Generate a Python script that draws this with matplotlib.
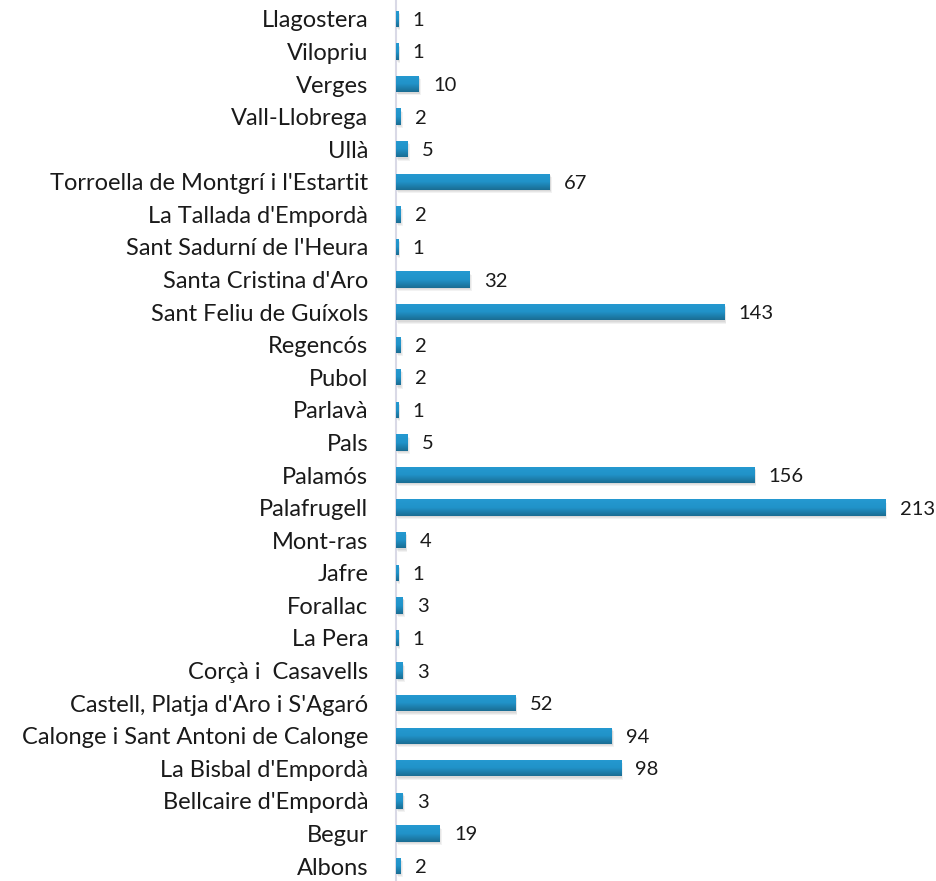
import matplotlib
matplotlib.use("Agg")
import matplotlib.pyplot as plt
import numpy as np
from matplotlib.colors import LinearSegmentedColormap

categories = ["Albons", "Begur", "Bellcaire d'Empordà", "La Bisbal d'Empordà",
              "Calonge i Sant Antoni de Calonge", "Castell, Platja d'Aro i S'Agaró",
              "Corçà i  Casavells", "La Pera", "Forallac", "Jafre", "Mont-ras",
              "Palafrugell", "Palamós", "Pals", "Parlavà", "Pubol", "Regencós",
              "Sant Feliu de Guíxols", "Santa Cristina d'Aro", "Sant Sadurní de l'Heura",
              "La Tallada d'Empordà", "Torroella de Montgrí i l'Estartit", "Ullà",
              "Vall-Llobrega", "Verges", "Vilopriu", "Llagostera"]
values = [2, 19, 3, 98, 94, 52, 3, 1, 3, 1, 4, 213, 156, 5, 1, 2, 2, 143, 32, 1, 2, 67, 5, 2, 10, 1, 1]

plt.rcParams['font.family'] = ['Lato', 'DejaVu Sans']

fig = plt.figure(figsize=(9.37, 8.81), dpi=100)
ax = fig.add_axes([0.4226, 0.0, 0.5774, 1.0])
y = np.arange(len(categories))
h = 0.5

# soft shadow
for k, a in enumerate([0.05, 0.05, 0.05]):
    off = 0.04 + 0.03 * k
    ax.barh(y - off, values, height=h, left=0.3 + 0.3 * k, color='#000000', alpha=a, zorder=1, linewidth=0)
bars = ax.barh(y, values, height=h, color='#1F8BBE', zorder=2, linewidth=0)

grad = np.linspace(0, 1, 64).reshape(-1, 1)
cmap = LinearSegmentedColormap.from_list('g', ['#1A6D93', '#2193C9', '#2599D1'])
for b in bars:
    x0, y0 = b.get_x(), b.get_y()
    w, hh = b.get_width(), b.get_height()
    im = ax.imshow(grad, extent=[x0, x0 + w, y0, y0 + hh], origin='lower',
                   cmap=cmap, aspect='auto', zorder=3)
    im.set_clip_path(b)

for yi, v in zip(y, values):
    ax.text(v + 6.3, yi, str(v), va='center_baseline', ha='left', fontsize=14.5, color='#1a1a1a')

ax.set_xlim(0, 235.6)
ax.set_ylim(-0.46, len(categories) - 0.42)
ax.set_yticks(y)
ax.set_yticklabels(categories, fontsize=17, color='#1a1a1a', va='center_baseline')
ax.tick_params(axis='y', length=0, pad=20)
ax.set_xticks([])
for s in ['top', 'right', 'bottom']:
    ax.spines[s].set_visible(False)
ax.spines['left'].set_color('#D9D9E6')
ax.spines['left'].set_linewidth(1.5)

fig.savefig('out.png', dpi=100)
